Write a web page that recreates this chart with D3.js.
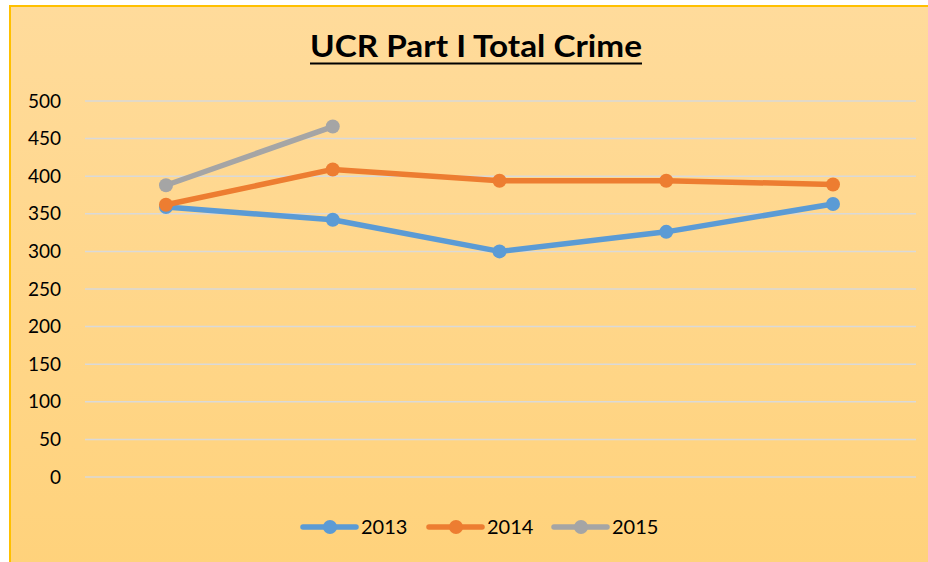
<!DOCTYPE html>
<html>
<head>
<meta charset="utf-8">
<script src="https://cdn.jsdelivr.net/npm/d3@7"></script>
<style>
  html, body { margin: 0; padding: 0; background: #ffffff; }
  svg { display: block; }
  text { font-family: Lato, "Open Sans", sans-serif; }
</style>
</head>
<body>
<svg id="chart" width="928" height="562"></svg>
<script>
// ---- data ----
const categories = ["P1", "P2", "P3", "P4", "P5"];
const series2013 = [359, 342, 300, 326, 363];
const series2014 = [362, 409, 394, 394, 389];
const series2015 = [388, 466, null, null, null];
const seriesNames = ["2013", "2014", "2015"];
const yTicks = [0, 50, 100, 150, 200, 250, 300, 350, 400, 450, 500];
const titleText = "UCR Part I Total Crime";

const colors = ["#5B9BD5", "#ED7D31", "#A5A5A5"];
const allSeries = [series2013, series2014, series2015];

const W = 928, H = 562;
const svg = d3.select("#chart");

// background gradient
const defs = svg.append("defs");
const grad = defs.append("linearGradient").attr("id", "bg").attr("x1", 0).attr("y1", 0).attr("x2", 0).attr("y2", 1);
grad.append("stop").attr("offset", "0%").attr("stop-color", "#FFDB9B");
grad.append("stop").attr("offset", "100%").attr("stop-color", "#FFD27B");

svg.append("rect").attr("x", 10).attr("y", 6).attr("width", W).attr("height", H)
  .attr("fill", "url(#bg)");
// top & left border
svg.append("line").attr("x1", 9).attr("x2", W).attr("y1", 6).attr("y2", 6)
  .attr("stroke", "#FFC000").attr("stroke-width", 2);
svg.append("line").attr("x1", 10).attr("x2", 10).attr("y1", 5).attr("y2", H)
  .attr("stroke", "#FFC000").attr("stroke-width", 2);

// scales
const x = d3.scalePoint().domain(categories).range([166, 833]);
const y = d3.scaleLinear().domain([0, 500]).range([477, 101]);

// gridlines
svg.append("g").selectAll("line").data(yTicks).join("line")
  .attr("x1", 85).attr("x2", 916)
  .attr("y1", d => y(d)).attr("y2", d => y(d))
  .attr("stroke", "#D9D9D9").attr("stroke-width", 1.5);

// y axis labels
const yAxis = d3.axisLeft(y).tickValues(yTicks).tickSize(0).tickPadding(0);
const gy = svg.append("g").attr("transform", "translate(61,0)").call(yAxis);
gy.select(".domain").remove();
gy.selectAll("text").attr("font-size", 19).attr("fill", "#000")
  .style("font-family", "Lato, sans-serif");

// title
const title = svg.append("text").attr("x", 476).attr("y", 57)
  .attr("text-anchor", "middle").attr("font-size", 30).attr("font-weight", "bold")
  .attr("fill", "#000").attr("textLength", 332).attr("lengthAdjust", "spacingAndGlyphs")
  .text(titleText);
svg.append("line").attr("x1", 476 - 166).attr("x2", 476 + 166)
  .attr("y1", 63.5).attr("y2", 63.5).attr("stroke", "#000").attr("stroke-width", 2);

// lines
const line = d3.line().defined(d => d.v != null).x(d => x(d.c)).y(d => y(d.v));
allSeries.forEach((s, i) => {
  const pts = categories.map((c, j) => ({ c, v: s[j] }));
  svg.append("path").datum(pts).attr("d", line)
    .attr("fill", "none").attr("stroke", colors[i]).attr("stroke-width", 5.5)
    .attr("stroke-linejoin", "round").attr("stroke-linecap", "round");
  svg.append("g").selectAll("circle").data(pts.filter(d => d.v != null)).join("circle")
    .attr("cx", d => x(d.c)).attr("cy", d => y(d.v)).attr("r", 7)
    .attr("fill", colors[i]);
});

// legend
const legendX = [303, 429, 554];
const lg = svg.append("g");
seriesNames.forEach((name, i) => {
  const g = lg.append("g").attr("transform", `translate(${legendX[i]},527)`);
  g.append("line").attr("x1", 0).attr("x2", 53).attr("y1", 0).attr("y2", 0)
    .attr("stroke", colors[i]).attr("stroke-width", 5.5).attr("stroke-linecap", "round");
  g.append("circle").attr("cx", 27).attr("cy", 0).attr("r", 7).attr("fill", colors[i]);
  g.append("text").attr("x", 58).attr("y", 7).attr("font-size", 20).attr("fill", "#000").text(name);
});
</script>
</body>
</html>
